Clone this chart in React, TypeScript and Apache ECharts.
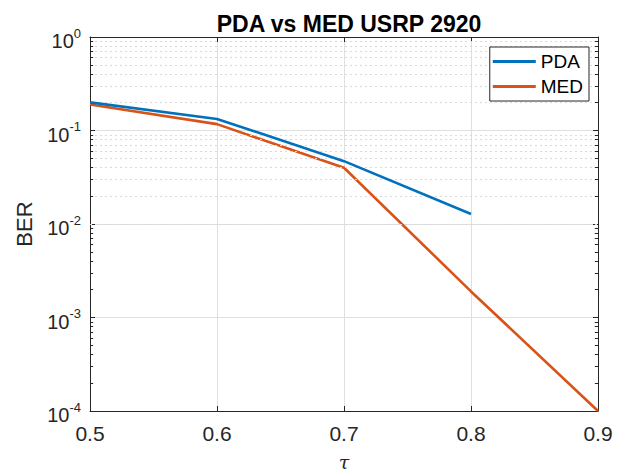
import React, { useEffect, useRef } from "react";
import * as echarts from "echarts";

const tau = [0.5, 0.6, 0.7, 0.8, 0.9];
const pda = [0.2, 0.133, 0.047, 0.0128, null];
const med = [0.19, 0.117, 0.04, 0.0019, 0.0001];
const xTicks = [0.5, 0.6, 0.7, 0.8, 0.9];
const decades = [-4, -3, -2, -1, 0];
const minorMultipliers = [2, 3, 4, 5, 6, 7, 8, 9];

const FONT = "'Liberation Sans', Arial, Helvetica, sans-serif";
const AX = "#262626";

export default function App() {
  const ref = useRef<HTMLDivElement>(null);
  useEffect(() => {
    const chart = echarts.init(ref.current!, null, { renderer: "svg" });
    const minorVals: number[] = [];
    decades.slice(0, -1).forEach((d) =>
      minorMultipliers.forEach((m) => minorVals.push(m * Math.pow(10, d)))
    );
    const yLabel = (v: number) => {
      const e = Math.round(Math.log10(v));
      return `{b|10}{s|${e}}`;
    };
    chart.setOption({
      animation: false,
      backgroundColor: "#ffffff",
      title: {
        text: "PDA vs MED USRP 2920",
        left: 344,
        textAlign: "center",
        top: 7,
        textStyle: { fontFamily: FONT, fontSize: 23, fontWeight: "bold", color: "#000", lineHeight: 23 },
      },
      grid: { left: 90, right: 26, top: 37, bottom: 63, outerBoundsMode: "none", containLabel: false },
      legend: {
        orient: "vertical",
        right: 35,
        top: 47,
        data: ["PDA", "MED"],
        icon: "rect",
        itemWidth: 43,
        itemHeight: 3,
        itemGap: 6,
        padding: [5, 6, 5, 3],
        borderColor: AX,
        borderWidth: 1,
        backgroundColor: "#fff",
        textStyle: { fontFamily: FONT, fontSize: 19, color: "#000", lineHeight: 19 },
        z: 10,
      },
      xAxis: [
        {
          type: "value",
          min: 0.5,
          max: 0.9,
          interval: 0.1,
          name: "τ",
          nameLocation: "middle",
          nameGap: 51,
          nameTextStyle: {
            fontFamily: "'DejaVu Serif', 'Liberation Serif', serif",
            fontStyle: "italic",
            fontSize: 19,
            color: AX,
            lineHeight: 14,
            verticalAlign: "middle",
          },
          axisLine: { show: true, lineStyle: { color: AX, width: 1 } },
          axisTick: { show: true, inside: true, length: 5, lineStyle: { color: AX } },
          axisLabel: {
            fontFamily: FONT, fontSize: 21, color: AX, margin: 12,
            formatter: (v: number) => v.toFixed(1),
          },
          splitLine: { show: true, lineStyle: { color: "#dfdfdf", width: 1 } },
        },
        {
          type: "value",
          position: "top",
          min: 0.5,
          max: 0.9,
          interval: 0.1,
          axisLine: { show: true, lineStyle: { color: AX, width: 1 } },
          axisTick: { show: true, inside: true, length: 5, lineStyle: { color: AX } },
          axisLabel: { show: false },
          splitLine: { show: false },
        },
      ],
      yAxis: [
        {
          type: "log",
          logBase: 10,
          min: 1e-4,
          max: 1,
          name: "BER",
          nameLocation: "middle",
          nameGap: 55,
          nameTextStyle: { fontFamily: FONT, fontSize: 22, color: AX },
          axisLine: { show: true, lineStyle: { color: AX, width: 1 } },
          axisTick: { show: true, inside: true, length: 5, lineStyle: { color: AX } },
          axisLabel: {
            formatter: yLabel,
            margin: 9,
            rich: {
              b: { fontFamily: FONT, fontSize: 20, color: AX, padding: [8, 0, 0, 0] },
              s: { fontFamily: FONT, fontSize: 13, color: AX, padding: [0, 0, 8, 0] },
            },
          },
          splitLine: { show: true, lineStyle: { color: "#dfdfdf", width: 1 } },
        },
        {
          type: "log",
          logBase: 10,
          min: 1e-4,
          max: 1,
          position: "right",
          axisLine: { show: true, lineStyle: { color: AX, width: 1 } },
          axisTick: { show: true, inside: true, length: 5, lineStyle: { color: AX } },
          axisLabel: { show: false },
          splitLine: { show: false },
        },
      ],
      series: [
        {
          name: "minor",
          type: "line",
          data: [],
          silent: true,
          markLine: {
            silent: true,
            symbol: "none",
            label: { show: false },
            lineStyle: { color: "#d9d9d9", type: [2, 3], width: 1 },
            data: minorVals.map((v) => ({ yAxis: v })),
          },
        },
        {
          name: "minorTicks",
          type: "line",
          data: [],
          silent: true,
          markLine: {
            silent: true,
            symbol: "none",
            label: { show: false },
            lineStyle: { color: AX, type: "solid", width: 1 },
            data: minorVals.flatMap((v) => [
              [{ coord: [0.5, v] }, { coord: [0.5025, v] }],
              [{ coord: [0.8975, v] }, { coord: [0.9, v] }],
            ]),
          },
        },
        {
          name: "PDA",
          type: "line",
          data: tau.map((t, i) => [t, pda[i]]),
          showSymbol: false,
          symbol: "none",
          lineStyle: { color: "#0072BD", width: 2.6 },
          itemStyle: { color: "#0072BD" },
          z: 5,
        },
        {
          name: "MED",
          type: "line",
          data: tau.map((t, i) => [t, med[i]]),
          showSymbol: false,
          symbol: "none",
          lineStyle: { color: "#D95319", width: 2.6 },
          itemStyle: { color: "#D95319" },
          z: 4,
        },
      ],
    });
    return () => chart.dispose();
  }, []);
  return <div ref={ref} style={{ width: 624, height: 474, position: "absolute", left: 0, top: 0 }} />;
}
